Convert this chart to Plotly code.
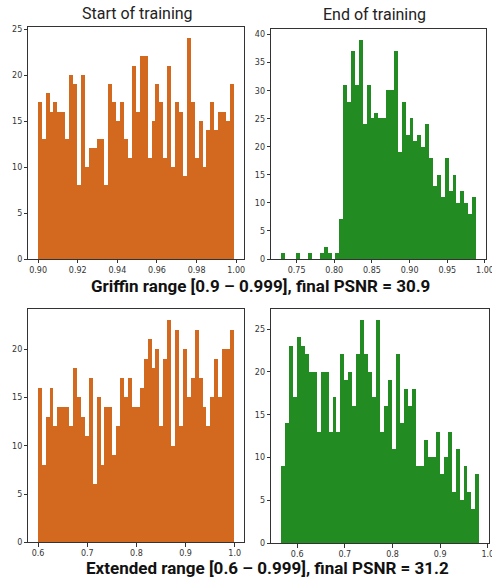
import numpy as np
import plotly.graph_objects as go

# ---- data ----
griffin_start_counts = [17, 13, 18, 16, 17, 16, 16, 13, 20, 19, 8, 20, 10, 12, 12, 13, 13, 8, 19, 17,
                        15, 17, 13, 11, 21, 16, 22, 22, 11, 15, 19, 17, 11, 21, 10, 17, 16, 9, 24, 17,
                        11, 15, 10, 14, 17, 14, 16, 16, 15, 19]
griffin_start_range = (0.9, 0.999)

griffin_end_counts = [1, 0, 0, 0, 1, 0, 0, 1, 0, 0, 1, 2, 1, 0, 1, 7, 31, 28, 37, 31,
                      39, 24, 31, 25, 26, 25, 25, 30, 30, 37, 19, 28, 22, 25, 21, 22, 20, 24, 18, 13,
                      15, 11, 18, 12, 15, 10, 12, 10, 8, 11]
griffin_end_range = (0.729, 0.988)

extended_start_counts = [16, 8, 13, 16, 12, 14, 14, 14, 12, 18, 15, 13, 11, 17, 6, 15, 8, 14, 14, 9,
                         12, 17, 15, 17, 14, 14, 16, 19, 21, 18, 20, 12, 19, 23, 10, 22, 12, 20, 15, 17,
                         22, 17, 14, 12, 15, 19, 15, 20, 20, 22]
extended_start_range = (0.6, 0.999)

extended_end_counts = [9, 14, 23, 17, 24, 23, 22, 20, 20, 13, 20, 20, 13, 17, 13, 22, 19, 20, 16, 22,
                       26, 22, 20, 17, 26, 13, 16, 19, 11, 22, 14, 18, 16, 18, 9, 9, 12, 10, 10, 13,
                       8, 10, 13, 6, 11, 5, 9, 6, 4, 8]
extended_end_range = (0.5658, 0.9824)

col_titles = ["Start of training", "End of training"]
row_titles = ["Griffin range [0.9 \u2013 0.999], final PSNR = 30.9",
              "Extended range [0.6 \u2013 0.999], final PSNR = 31.2"]

top_left_ticks = [0.90, 0.92, 0.94, 0.96, 0.98, 1.00]
top_left_ticklabels = ["0.90", "0.92", "0.94", "0.96", "0.98", "1.00"]
top_right_ticks = [0.75, 0.80, 0.85, 0.90, 0.95, 1.00]
top_right_ticklabels = ["0.75", "0.80", "0.85", "0.90", "0.95", "1.00"]
bottom_ticks = [0.6, 0.7, 0.8, 0.9, 1.0]
bottom_ticklabels = ["0.6", "0.7", "0.8", "0.9", "1.0"]

ORANGE = "#D2691E"
GREEN = "#228B22"

W, H = 492, 578


def bins(counts, rng):
    n = len(counts)
    edges = np.linspace(rng[0], rng[1], n + 1)
    centers = (edges[:-1] + edges[1:]) / 2
    return centers, edges[1] - edges[0]


def xr(rng):
    m = (rng[1] - rng[0]) * 0.05
    return [rng[0] - m, rng[1] + m]


panels = [
    (griffin_start_counts, griffin_start_range, ORANGE, "x", "y",
     (28.3, 244, 27.3, 259), top_left_ticks, top_left_ticklabels, list(range(0, 26, 5))),
    (griffin_end_counts, griffin_end_range, GREEN, "x2", "y2",
     (271, 485.7, 29.3, 259), top_right_ticks, top_right_ticklabels, list(range(0, 41, 5))),
    (extended_start_counts, extended_start_range, ORANGE, "x3", "y3",
     (28.3, 244, 309.3, 542.3), bottom_ticks, bottom_ticklabels, list(range(0, 21, 5))),
    (extended_end_counts, extended_end_range, GREEN, "x4", "y4",
     (271, 489.3, 309.3, 543.3), bottom_ticks, bottom_ticklabels, list(range(0, 26, 5))),
]

fig = go.Figure()
layout = {}
tickfont = dict(family="DejaVu Sans", size=8, color="#333333")
for i, (counts, rng, color, xa, ya, box, xt, xtl, yt) in enumerate(panels):
    centers, w = bins(counts, rng)
    fig.add_trace(go.Bar(x=centers, y=counts, width=w, marker=dict(color=color, line=dict(width=0)),
                         xaxis=xa, yaxis=ya, showlegend=False, hoverinfo="x+y"))
    l, r, t, b = box
    xname = "xaxis" if i == 0 else f"xaxis{i+1}"
    yname = "yaxis" if i == 0 else f"yaxis{i+1}"
    layout[xname] = dict(domain=[l / W, r / W], range=xr(rng), anchor=ya, automargin=False,
                         tickvals=xt, ticktext=xtl, ticks="outside", ticklen=3.5, tickwidth=0.8,
                         tickcolor="#333", showline=True, linecolor="#333", linewidth=0.8, mirror=True,
                         showgrid=False, zeroline=False, tickfont=tickfont, fixedrange=True,
                         ticklabeloverflow="allow")
    layout[yname] = dict(domain=[1 - b / H, 1 - t / H], range=[0, max(counts) * 1.05], anchor=xa,
                         automargin=False,
                         tickvals=yt, ticks="outside", ticklen=3.5, tickwidth=0.8,
                         tickcolor="#333", showline=True, linecolor="#333", linewidth=0.8, mirror=True,
                         showgrid=False, zeroline=False, tickfont=tickfont, fixedrange=True,
                         ticklabeloverflow="allow")

ann_common = dict(xref="paper", yref="paper", showarrow=False, xanchor="center", yanchor="middle")
annotations = [
    dict(text=col_titles[0], x=137.7 / W, y=1 - 13 / H,
         font=dict(family="Roboto", size=16, color="#222"), **ann_common),
    dict(text=col_titles[1], x=374 / W, y=1 - 14 / H,
         font=dict(family="Roboto", size=16, color="#222"), **ann_common),
    dict(text="<b>" + row_titles[0] + "</b>", x=260 / W, y=1 - 285.5 / H,
         font=dict(family="Roboto", size=17, color="#111"), **ann_common),
    dict(text="<b>" + row_titles[1] + "</b>", x=267 / W, y=1 - 567.5 / H,
         font=dict(family="Roboto", size=17, color="#111"), **ann_common),
]

fig.update_layout(width=W, height=H, margin=dict(l=0, r=0, t=0, b=0, autoexpand=False), bargap=0,
                  paper_bgcolor="white", plot_bgcolor="white", annotations=annotations, **layout)

fig.write_html("out.html", config={"displayModeBar": False},
               post_script="document.body.style.margin='0';document.body.style.overflow='hidden';")
